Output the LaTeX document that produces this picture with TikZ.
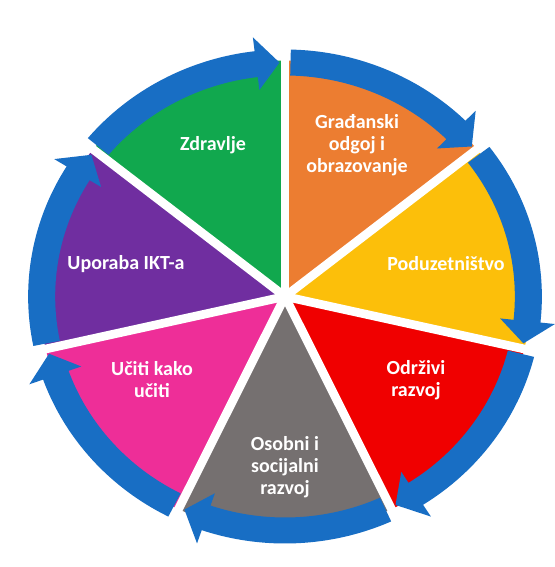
\documentclass[tikz,border=0pt]{standalone}
\usepackage{fontspec}
\setmainfont{Carlito}
\definecolor{cOrange}{RGB}{236,125,49}
\definecolor{cYellow}{RGB}{252,191,10}
\definecolor{cRed}{RGB}{240,0,0}
\definecolor{cGray}{RGB}{117,112,112}
\definecolor{cPink}{RGB}{238,46,152}
\definecolor{cPurple}{RGB}{112,46,160}
\definecolor{cGreen}{RGB}{17,168,78}
\definecolor{cBlue}{RGB}{24,110,196}
\tikzset{
  gapline/.style={white, line width=6.5pt},
  arrowband/.style={fill=cBlue},
  lbl/.style={text=white, font=\bfseries\fontsize{15}{16.5}\selectfont, align=center, inner sep=0pt}
}
\begin{document}
\begin{tikzpicture}[x=0.75pt,y=0.75pt]
\useasboundingbox (0,0) rectangle (555,567);
\fill[white] (0,0) rectangle (555,567);
\begin{scope}[shift={(285,270.5)}, xscale=1.04]
  % sectors
  \foreach \i/\c in {0/cOrange,1/cYellow,2/cRed,3/cGray,4/cPink,5/cPurple,6/cGreen}{
    \pgfmathsetmacro{\as}{90-\i*360/7}
    \pgfmathsetmacro{\ae}{\as-360/7}
    \fill[\c] (0,0) -- (\ae:236) arc[start angle=\ae, end angle=\as, radius=236] -- cycle;
  }
  % white gaps
  \foreach \i in {0,...,6}{
    \pgfmathsetmacro{\a}{90-\i*360/7}
    \draw[gapline] (0,0) -- (\a:252);
  }
  % circular arrows
  \foreach \i in {0,...,6}{
    \pgfmathsetmacro{\as}{90-\i*360/7}
    \pgfmathsetmacro{\ae}{\as-360/7}
    \pgfmathsetmacro{\aa}{\as-1.3}
    \pgfmathsetmacro{\ab}{\ae+1.3+5.5}
    \pgfmathsetmacro{\at}{\ae+1.3}
    \fill[arrowband] (\aa:247) arc[start angle=\aa, end angle=\ab, radius=247]
      -- (\ab:261) -- (\at:234) -- (\ab:208) -- (\ab:221)
      arc[start angle=\ab, end angle=\aa, radius=221] -- cycle;
  }
\end{scope}
\node[lbl] (zdr) at (213,422) {Zdravlje};
\node[lbl] (gra) at (357,422) {Građanski\\odgoj i\\obrazovanje};
\node[lbl] (pod) at (446,303) {Poduzetništvo};
\node[lbl] (odr) at (416,187) {Održivi\\razvoj};
\node[lbl] (oso) at (285,100) {Osobni i\\socijalni\\razvoj};
\node[lbl] (uci) at (152,187) {Učiti kako\\učiti};
\node[lbl] (upo) at (126,303) {Uporaba IKT-a};
\end{tikzpicture}
\end{document}
